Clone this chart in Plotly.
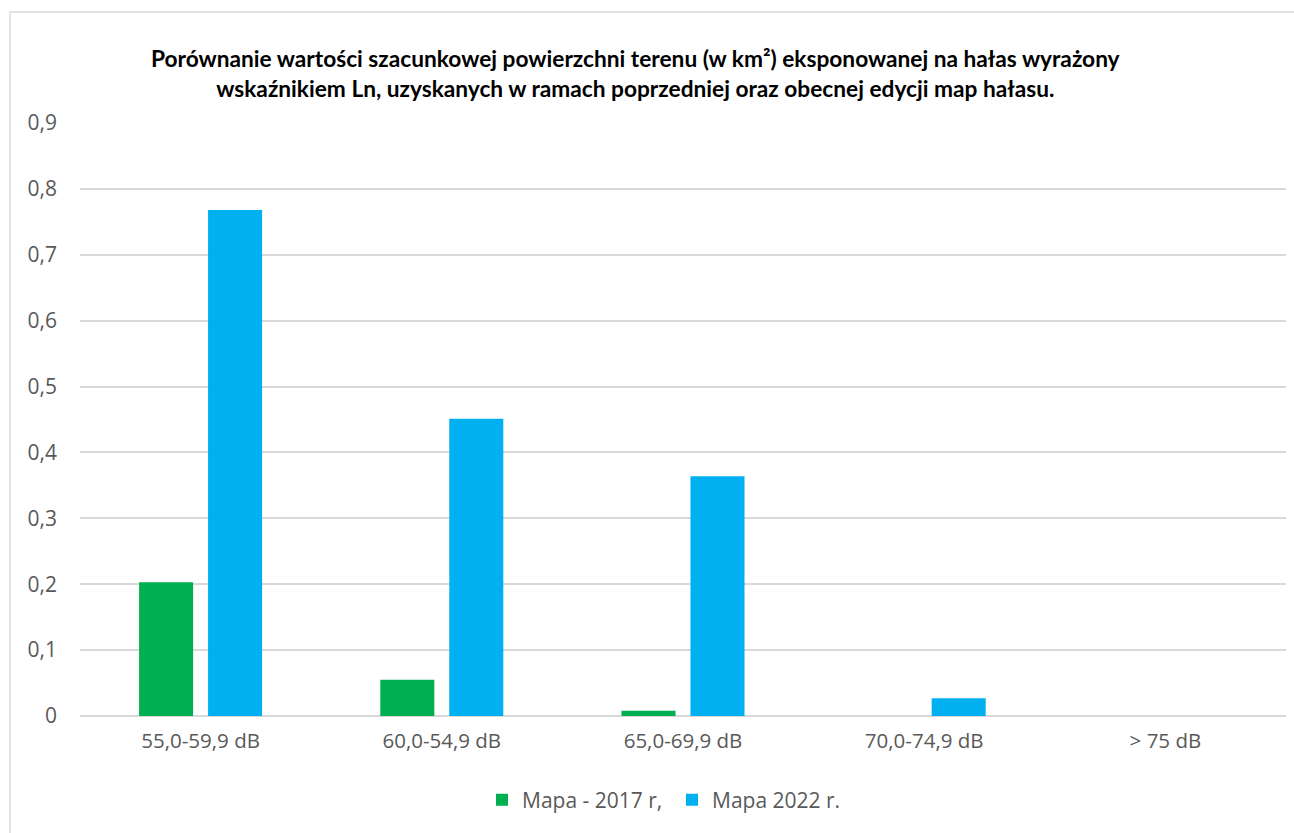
import plotly.graph_objects as go

categories = ["55,0-59,9 dB", "60,0-54,9 dB", "65,0-69,9 dB", "70,0-74,9 dB", "> 75 dB"]
mapa_2017 = [0.203, 0.055, 0.008, 0.0, 0.0]
mapa_2022 = [0.768, 0.451, 0.364, 0.027, 0.0]
y_ticks = [0, 0.1, 0.2, 0.3, 0.4, 0.5, 0.6, 0.7, 0.8, 0.9]
y_tick_text = ["0", "0,1", "0,2", "0,3", "0,4", "0,5", "0,6", "0,7", "0,8", "0,9"]

W, H = 1294, 833
L, R, T, B = 80, 8, 123, 117
pw, ph = W - L - R, H - T - B

def px_x(px):
    return (px - L) / pw

def px_y(py):
    return (H - B - py) / ph

label_font = "Open Sans, Roboto, sans-serif"
title_font = "Lato, Roboto, sans-serif"
grey = "#595959"

fig = go.Figure()
fig.add_trace(go.Bar(x=categories, y=mapa_2017, name="Mapa - 2017 r,",
                     marker=dict(color="#00b050", line=dict(width=0))))
fig.add_trace(go.Bar(x=categories, y=mapa_2022, name="Mapa 2022 r.",
                     marker=dict(color="#00b0f0", line=dict(width=0))))

fig.update_layout(
    width=W, height=H,
    margin=dict(l=L, r=R, t=T, b=B),
    paper_bgcolor="white", plot_bgcolor="white",
    barmode="group", bargap=0.428, bargroupgap=0.217,
    font=dict(family=label_font, color=grey, size=20.5),
    showlegend=True,
    legend=dict(orientation="h", x=px_x(672), xanchor="center",
                y=px_y(800), yanchor="middle",
                font=dict(size=21, color=grey, family=label_font),
                itemwidth=30, entrywidth=145, traceorder="normal"),
    xaxis=dict(showline=False, ticks="", tickfont=dict(size=20.5, color=grey),
               ticklabelstandoff=10),
    yaxis=dict(range=[0, 0.9], tickvals=y_ticks, ticktext=y_tick_text,
               showgrid=True, gridcolor="#d9d9d9", gridwidth=1.5,
               zeroline=True, zerolinecolor="#d9d9d9", zerolinewidth=1.5,
               showline=False, ticks="", tickfont=dict(size=21, color=grey),
               ticklabelstandoff=22),
)

# Chart title
fig.add_annotation(
    xref="paper", yref="paper", x=px_x(635), y=px_y(74),
    xanchor="center", yanchor="middle", showarrow=False,
    text="<b>Porównanie wartości szacunkowej powierzchni terenu (w km²) eksponowanej na hałas wyrażony<br>"
         "wskaźnikiem Ln, uzyskanych w ramach poprzedniej oraz obecnej edycji map hałasu.</b>",
    font=dict(size=22.7, color="#000000", family=title_font),
    align="center",
)

# Chart area border
fig.add_shape(type="rect", xref="paper", yref="paper",
              x0=px_x(10), y0=px_y(840), x1=px_x(1300), y1=px_y(12),
              line=dict(color="#d9d9d9", width=1.5), layer="below")

fig.write_html("out.html")
